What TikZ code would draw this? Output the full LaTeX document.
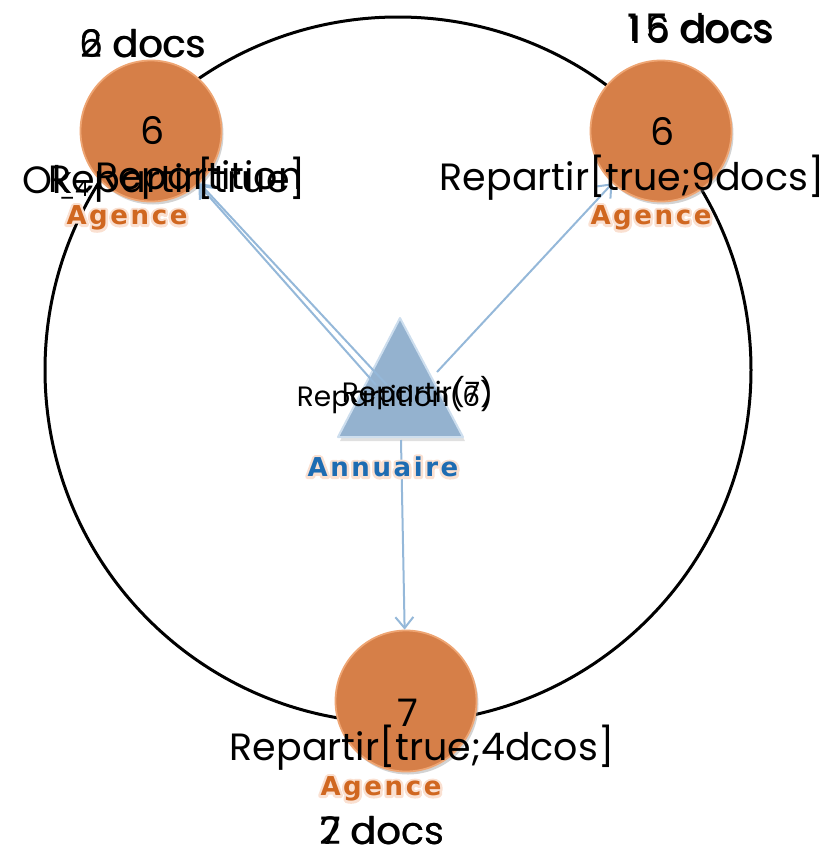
\documentclass[tikz,border=0pt]{standalone}
\usepackage{fontspec}
\setmainfont{Poppins}
\newfontfamily\agfont[LetterSpace=10]{DejaVu Sans}
\usetikzlibrary{arrows.meta,shadows,calc}
\definecolor{ball}{RGB}{214,127,72}
\definecolor{ballrim}{RGB}{238,165,115}
\definecolor{tri}{RGB}{148,178,207}
\definecolor{tririm}{RGB}{205,222,238}
\definecolor{arr}{RGB}{149,184,217}
\definecolor{agc}{RGB}{208,103,32}
\definecolor{anc}{RGB}{30,108,178}
\newcommand{\glowtxt}[1]{\rlap{\special{pdf:literal direct 1 Tr 5 w 1 J 1 j 0.98 0.88 0.82 RG}#1\special{pdf:literal direct 0 Tr 0 0 0 RG}}#1}
\tikzset{
  ballnode/.style={circle, minimum size=141pt, inner sep=0pt, fill=ball, draw=ballrim, line width=1.8pt,
    drop shadow={opacity=0.35, shadow xshift=2pt, shadow yshift=-3pt}},
  big/.style={inner sep=0pt, font=\fontsize{38}{40}\selectfont},
  mid/.style={inner sep=0pt, font=\fontsize{28}{30}\selectfont},
  small/.style={inner sep=0pt, font=\fontsize{22}{24}\selectfont},
  lbl/.style={inner sep=0pt, font=\agfont\bfseries\fontsize{26}{28}\selectfont},
  conn/.style={draw=arr, line width=2pt, -{Straight Barb[length=11pt,width=18pt,line width=2pt]}},
  ring/.style={draw=black, line width=3pt}
}
\begin{document}
\begin{tikzpicture}[x=1pt,y=-1pt]
\useasboundingbox (0,0) rectangle (838,855);
% ring
\draw[ring] (398,370) circle[radius=353pt];
% agencies
\node[ballnode] (agTL) at (151,131) {};
\node[ballnode] (agTR) at (661,131) {};
\node[ballnode] (agB) at (406,701) {};
% annuaire triangle
\coordinate (tA) at (400,318);
\coordinate (tL) at (338,437);
\coordinate (tR) at (463,437);
\fill[black!35, opacity=0.35] ($(tA)+(2,4)$) -- ($(tL)+(2,4)$) -- ($(tR)+(2,4)$) -- cycle;
\draw[fill=tri, draw=tririm, line width=2pt, line join=round] (tA) -- (tL) -- (tR) -- cycle;
% arrow start points
\coordinate (s1a) at (376,385);
\coordinate (s1b) at (387,385);
\coordinate (s2) at (437,372);
\coordinate (s3) at (401,440);
\draw[conn] (s1a) -- (agTL);
\draw[conn] (s1b) -- (agTL);
\draw[conn] (s2) -- (agTR);
\draw[conn] (s3) -- (agB);
% labels
\node[lbl, text=agc] (lTL) at (127,218) {\glowtxt{Agence}};
\node[lbl, text=agc] (lTR) at (651,218) {\glowtxt{Agence}};
\node[lbl, text=agc] (lB) at (381,789) {\glowtxt{Agence}};
\node[lbl, text=anc] (lAn) at (383,467) {\glowtxt{Annuaire}};
% numbers
\node[big] (nTL) at (153,131) {6};
\node[big] (nTR) at (663,132) {6};
\node[big] (nB) at (408,713) {7};
% docs counts
\node[big] (dTLa) at (143,44) {2 docs};
\node[big] (dTLb) at (143,44) {6 docs};
\node[big] (dTRa) at (700,28) {1\kern5pt5 docs};
\node[big] (dTRb) at (702,30) {1\kern5pt6 docs};
\node[big] (dBa) at (382,831) {7 docs};
\node[big] (dBb) at (382,831) {2 docs};
% messages
\node[big, anchor=west] (mOk) at (22,180) {Ok};
\node[big, anchor=east] (mTL1) at (306,180) {Repartir[true]};
\node[big, anchor=west] (mTL2) at (95,180) {Repartition};
\node[small] (m4) at (74,190) {\_4};
\node[big] (mTR) at (632,178) {Repartir[true;9docs]};
\node[big] (mB) at (422,748) {Repartir[true;4dcos]};
\node[mid, anchor=east] (mC1) at (493,397) {Repartition(6)};
\node[mid, anchor=east] (mC2) at (493,393) {Repartir(7)};
\end{tikzpicture}
\end{document}
